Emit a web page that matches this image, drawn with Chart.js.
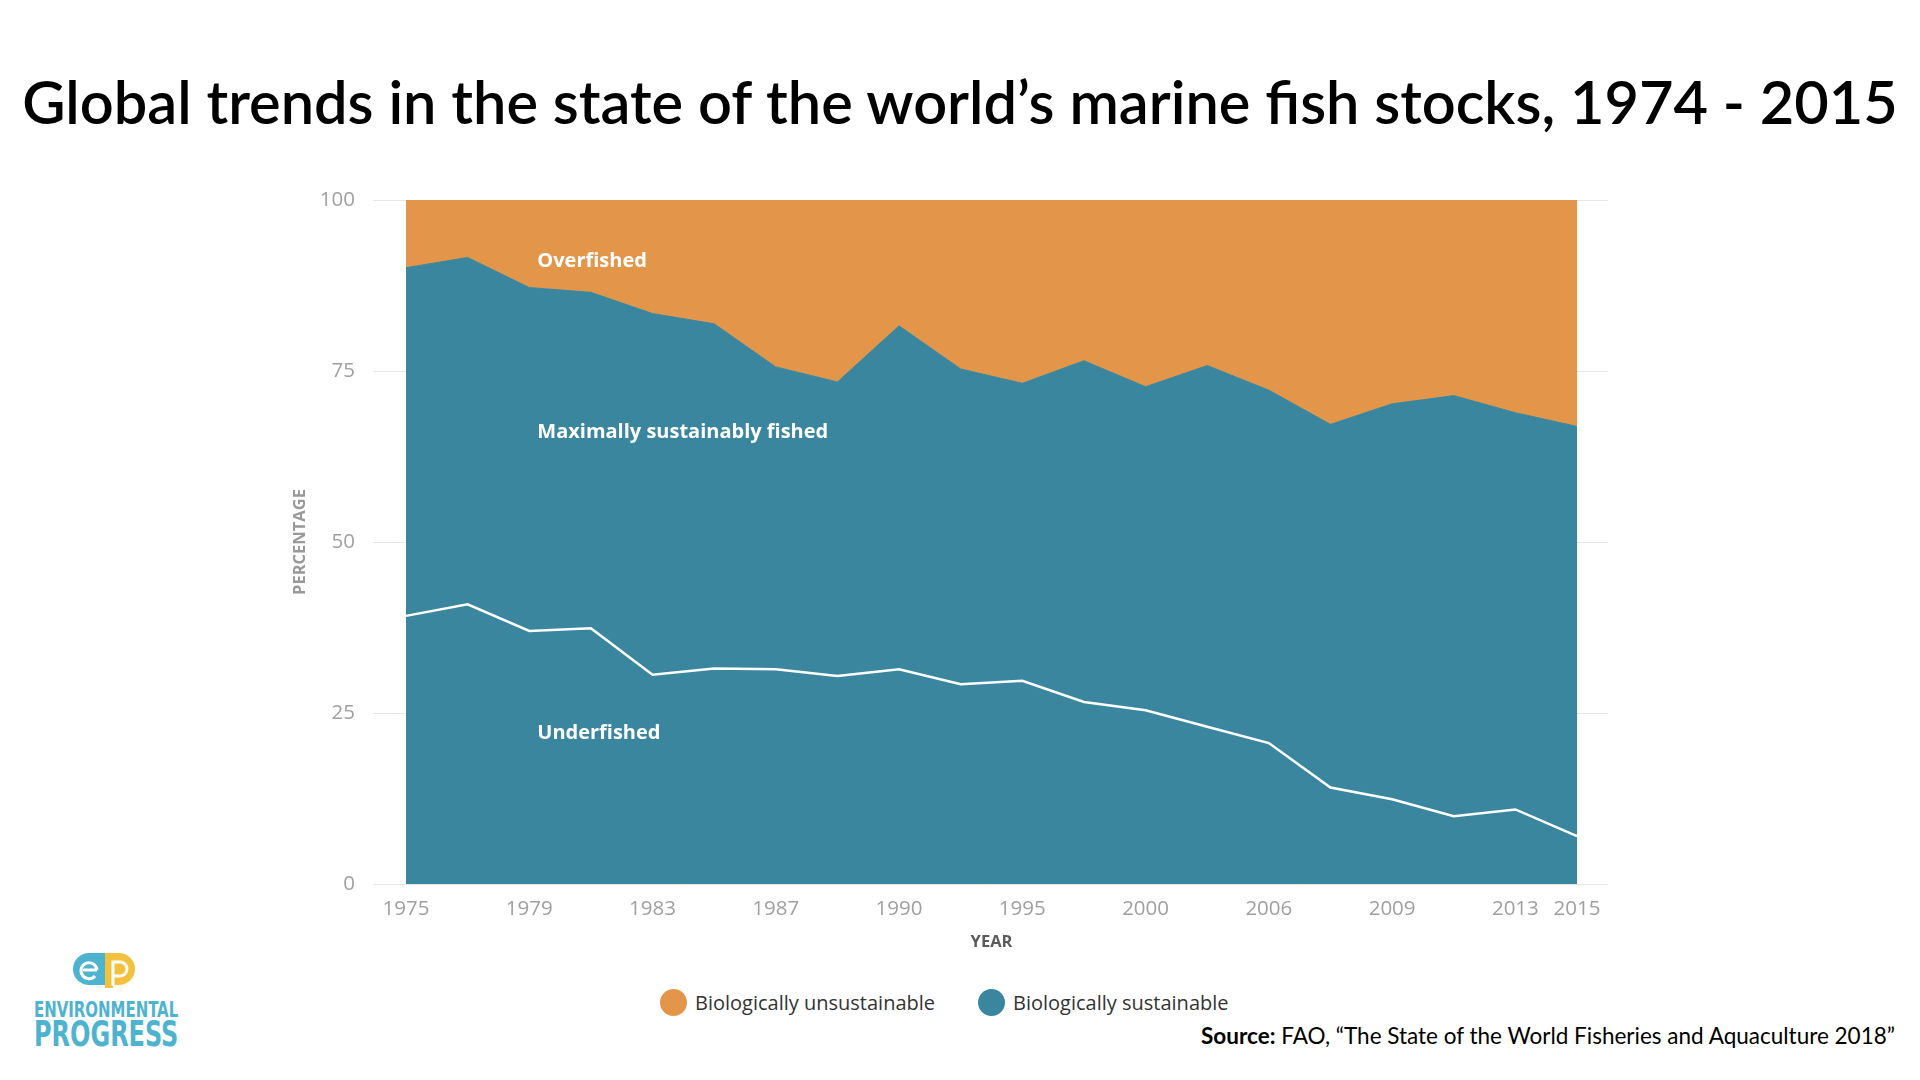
<!DOCTYPE html>
<html>
<head>
<meta charset="utf-8">
<script src="https://cdn.jsdelivr.net/npm/chart.js@4.4.0/dist/chart.umd.min.js"></script>
<style>
  body{margin:0;width:1920px;height:1080px;background:#fff;position:relative;overflow:hidden;font-family:"Open Sans",sans-serif}
  #titulo{position:absolute;left:0;width:1920px;top:65px;text-align:center;font-family:Lato,sans-serif;font-size:59.5px;font-weight:600;color:#000;white-space:nowrap}
  #grafico{position:absolute;left:280px;top:180px}
  .leyenda{position:absolute;top:989px;font-size:20px;color:#333;white-space:nowrap}
  .leyenda span{display:inline-block;width:27px;height:27px;border-radius:50%;vertical-align:middle;margin-right:8px;position:relative;top:-2px}
  #fuente{position:absolute;right:25px;top:1022px;font-family:Lato,sans-serif;font-size:22.5px;color:#000;white-space:nowrap}
  #logo{position:absolute;left:34px;top:950px;width:144px;color:#4db3ce;font-family:"Liberation Sans Narrow","DejaVu Sans Condensed",sans-serif;font-weight:bold}
  #logo div{white-space:nowrap;transform-origin:0 0;line-height:1}
</style>
</head>
<body>
<div id="titulo">Global trends in the state of the world’s marine fish stocks, 1974 - 2015</div>
<canvas id="grafico" width="1340" height="780"></canvas>
<div class="leyenda" style="left:660px"><span style="background:#e3964a"></span>Biologically unsustainable</div>
<div class="leyenda" style="left:978px"><span style="background:#3a869e"></span>Biologically sustainable</div>
<div id="fuente"><b>Source:</b> FAO, “The State of the World Fisheries and Aquaculture 2018”</div>
<div id="logo">
  <svg width="64" height="36" viewBox="0 0 64 36" style="position:absolute;left:39px;top:2px">
    <path d="M16 1 H32 V33 H16 A16 16 0 0 1 16 1 Z" fill="#4db3ce"/>
    <path d="M32 1 H46 A16 16 0 0 1 46 33 H40 V36 H32 Z" fill="#f2c23e"/>
    <path d="M10 18 H24 M24 18 A8 8 0 1 0 22 24" stroke="#fff" stroke-width="3" fill="none"/>
    <path d="M40 34 V10 H47 A7 7 0 0 1 47 24 H40" stroke="#fff" stroke-width="3" fill="none"/>
  </svg>
  <div id="l1" style="position:absolute;top:50px;font-size:21px">ENVIRONMENTAL</div>
  <div id="l2" style="position:absolute;top:67px;font-size:35px">PROGRESS</div>
</div>

<script>
// datos (porcentaje de poblaciones)
const years = ["1975","1977","1979","1981","1983","1985","1987","1989","1990","1992","1995","1997","2000","2004","2006","2008","2009","2011","2013","2015"]
const tickYears = ["1975","1979","1983","1987","1990","1995","2000","2006","2009","2013","2015"]
const sustainable = [90.1, 91.6, 87.2, 86.5, 83.4, 81.9, 75.6, 73.4, 81.6, 75.3, 73.2, 76.5, 72.7, 75.8, 72.2, 67.2, 70.2, 71.4, 68.9, 66.9]
const overfished = [9.9, 8.4, 12.8, 13.5, 16.6, 18.1, 24.4, 26.6, 18.4, 24.7, 26.8, 23.5, 27.3, 24.2, 27.8, 32.8, 29.8, 28.6, 31.1, 33.1]
const underfished = [39.2, 40.9, 37.0, 37.4, 30.6, 31.5, 31.4, 30.4, 31.4, 29.2, 29.7, 26.6, 25.4, 23.0, 20.6, 14.1, 12.4, 9.9, 10.9, 7.0]
const yTicks = [0, 25, 50, 75, 100]

// textos dentro del area
const areaLabels = ["Overfished", "Maximally sustainably fished", "Underfished"]
const areaLabelY = [91.0, 66.1, 22.0]

const naranja = "#e3964a"
const azul = "#3a869e"

// lineas de la grilla, mas largas que el area del grafico
const grilla = {
  id: "grilla",
  beforeDatasetsDraw(chart) {
    const ctx = chart.ctx, a = chart.chartArea, y = chart.scales.y
    ctx.save()
    ctx.strokeStyle = "#e6e6e6"
    ctx.lineWidth = 1
    yTicks.forEach(v => {
      const py = Math.round(y.getPixelForValue(v)) + 0.5
      ctx.beginPath()
      ctx.moveTo(a.left - 33, py)
      ctx.lineTo(a.right + 31, py)
      ctx.stroke()
    })
    ctx.restore()
  }
}

const textos = {
  id: "textos",
  afterDatasetsDraw(chart) {
    const ctx = chart.ctx, x = chart.scales.x, y = chart.scales.y
    ctx.save()
    ctx.fillStyle = "#fff"
    ctx.font = "bold 20px 'Open Sans'"
    ctx.textBaseline = "middle"
    areaLabels.forEach((t, i) => {
      ctx.fillText(t, x.getPixelForValue(2.13), y.getPixelForValue(areaLabelY[i]))
    })
    ctx.restore()
  }
}

var chart = new Chart(document.getElementById("grafico"), {
  type: "line",
  data: {
    labels: years,
    datasets: [
      {
        label: "Underfished",
        data: underfished,
        stack: "sub",
        borderColor: "#fff",
        borderWidth: 2.5,
        pointRadius: 0,
        fill: false,
        tension: 0
      },
      {
        label: "Biologically sustainable",
        data: sustainable,
        stack: "estado",
        borderColor: azul,
        backgroundColor: azul,
        borderWidth: 1,
        pointRadius: 0,
        fill: "origin",
        tension: 0
      },
      {
        label: "Biologically unsustainable",
        data: overfished,
        stack: "estado",
        borderColor: naranja,
        backgroundColor: naranja,
        borderWidth: 1,
        pointRadius: 0,
        fill: "-1",
        tension: 0
      }
    ]
  },
  options: {
    responsive: false,
    animation: false,
    devicePixelRatio: 1,
    layout: { padding: { top: 20, right: 43, bottom: 0, left: 0 } },
    plugins: { legend: { display: false }, tooltip: { enabled: false } },
    scales: {
      x: {
        offset: false,
        grid: { display: false, drawTicks: true, tickLength: 0 },
        border: { display: false },
        ticks: {
          autoSkip: false,
          maxRotation: 0,
          padding: 13,
          color: "#a0a0a0",
          font: { family: "'Open Sans'", size: 20.5, weight: "400" },
          callback: function (v, i) {
            const l = years[i]
            return tickYears.includes(l) ? l : ""
          }
        },
        title: {
          display: true,
          text: "YEAR",
          color: "#5a5a5a",
          padding: 8,
          font: { family: "'Open Sans'", size: 16.5, weight: "bold" }
        },
        afterFit(s) { s.height = 76 }
      },
      y: {
        stacked: true,
        min: 0,
        max: 100,
        // tickLength en vez de padding para no empujar el area hacia abajo
        grid: { display: false, drawTicks: true, tickLength: 51 },
        border: { display: false },
        ticks: {
          stepSize: 25,
          padding: 0,
          color: "#a0a0a0",
          font: { family: "'Open Sans'", size: 20.5, weight: "400" }
        },
        title: {
          display: true,
          text: "PERCENTAGE",
          color: "#999",
          padding: 10,
          font: { family: "'Open Sans'", size: 16.5, weight: "bold" }
        },
        afterFit(s) { s.width = 126 }
      }
    }
  },
  plugins: [grilla, textos]
})

// ajustar el ancho del logo
;["l1", "l2"].forEach(id => {
  const el = document.getElementById(id)
  el.style.transform = "scaleX(" + (144 / el.offsetWidth) + ")"
})
</script>
</body>
</html>
